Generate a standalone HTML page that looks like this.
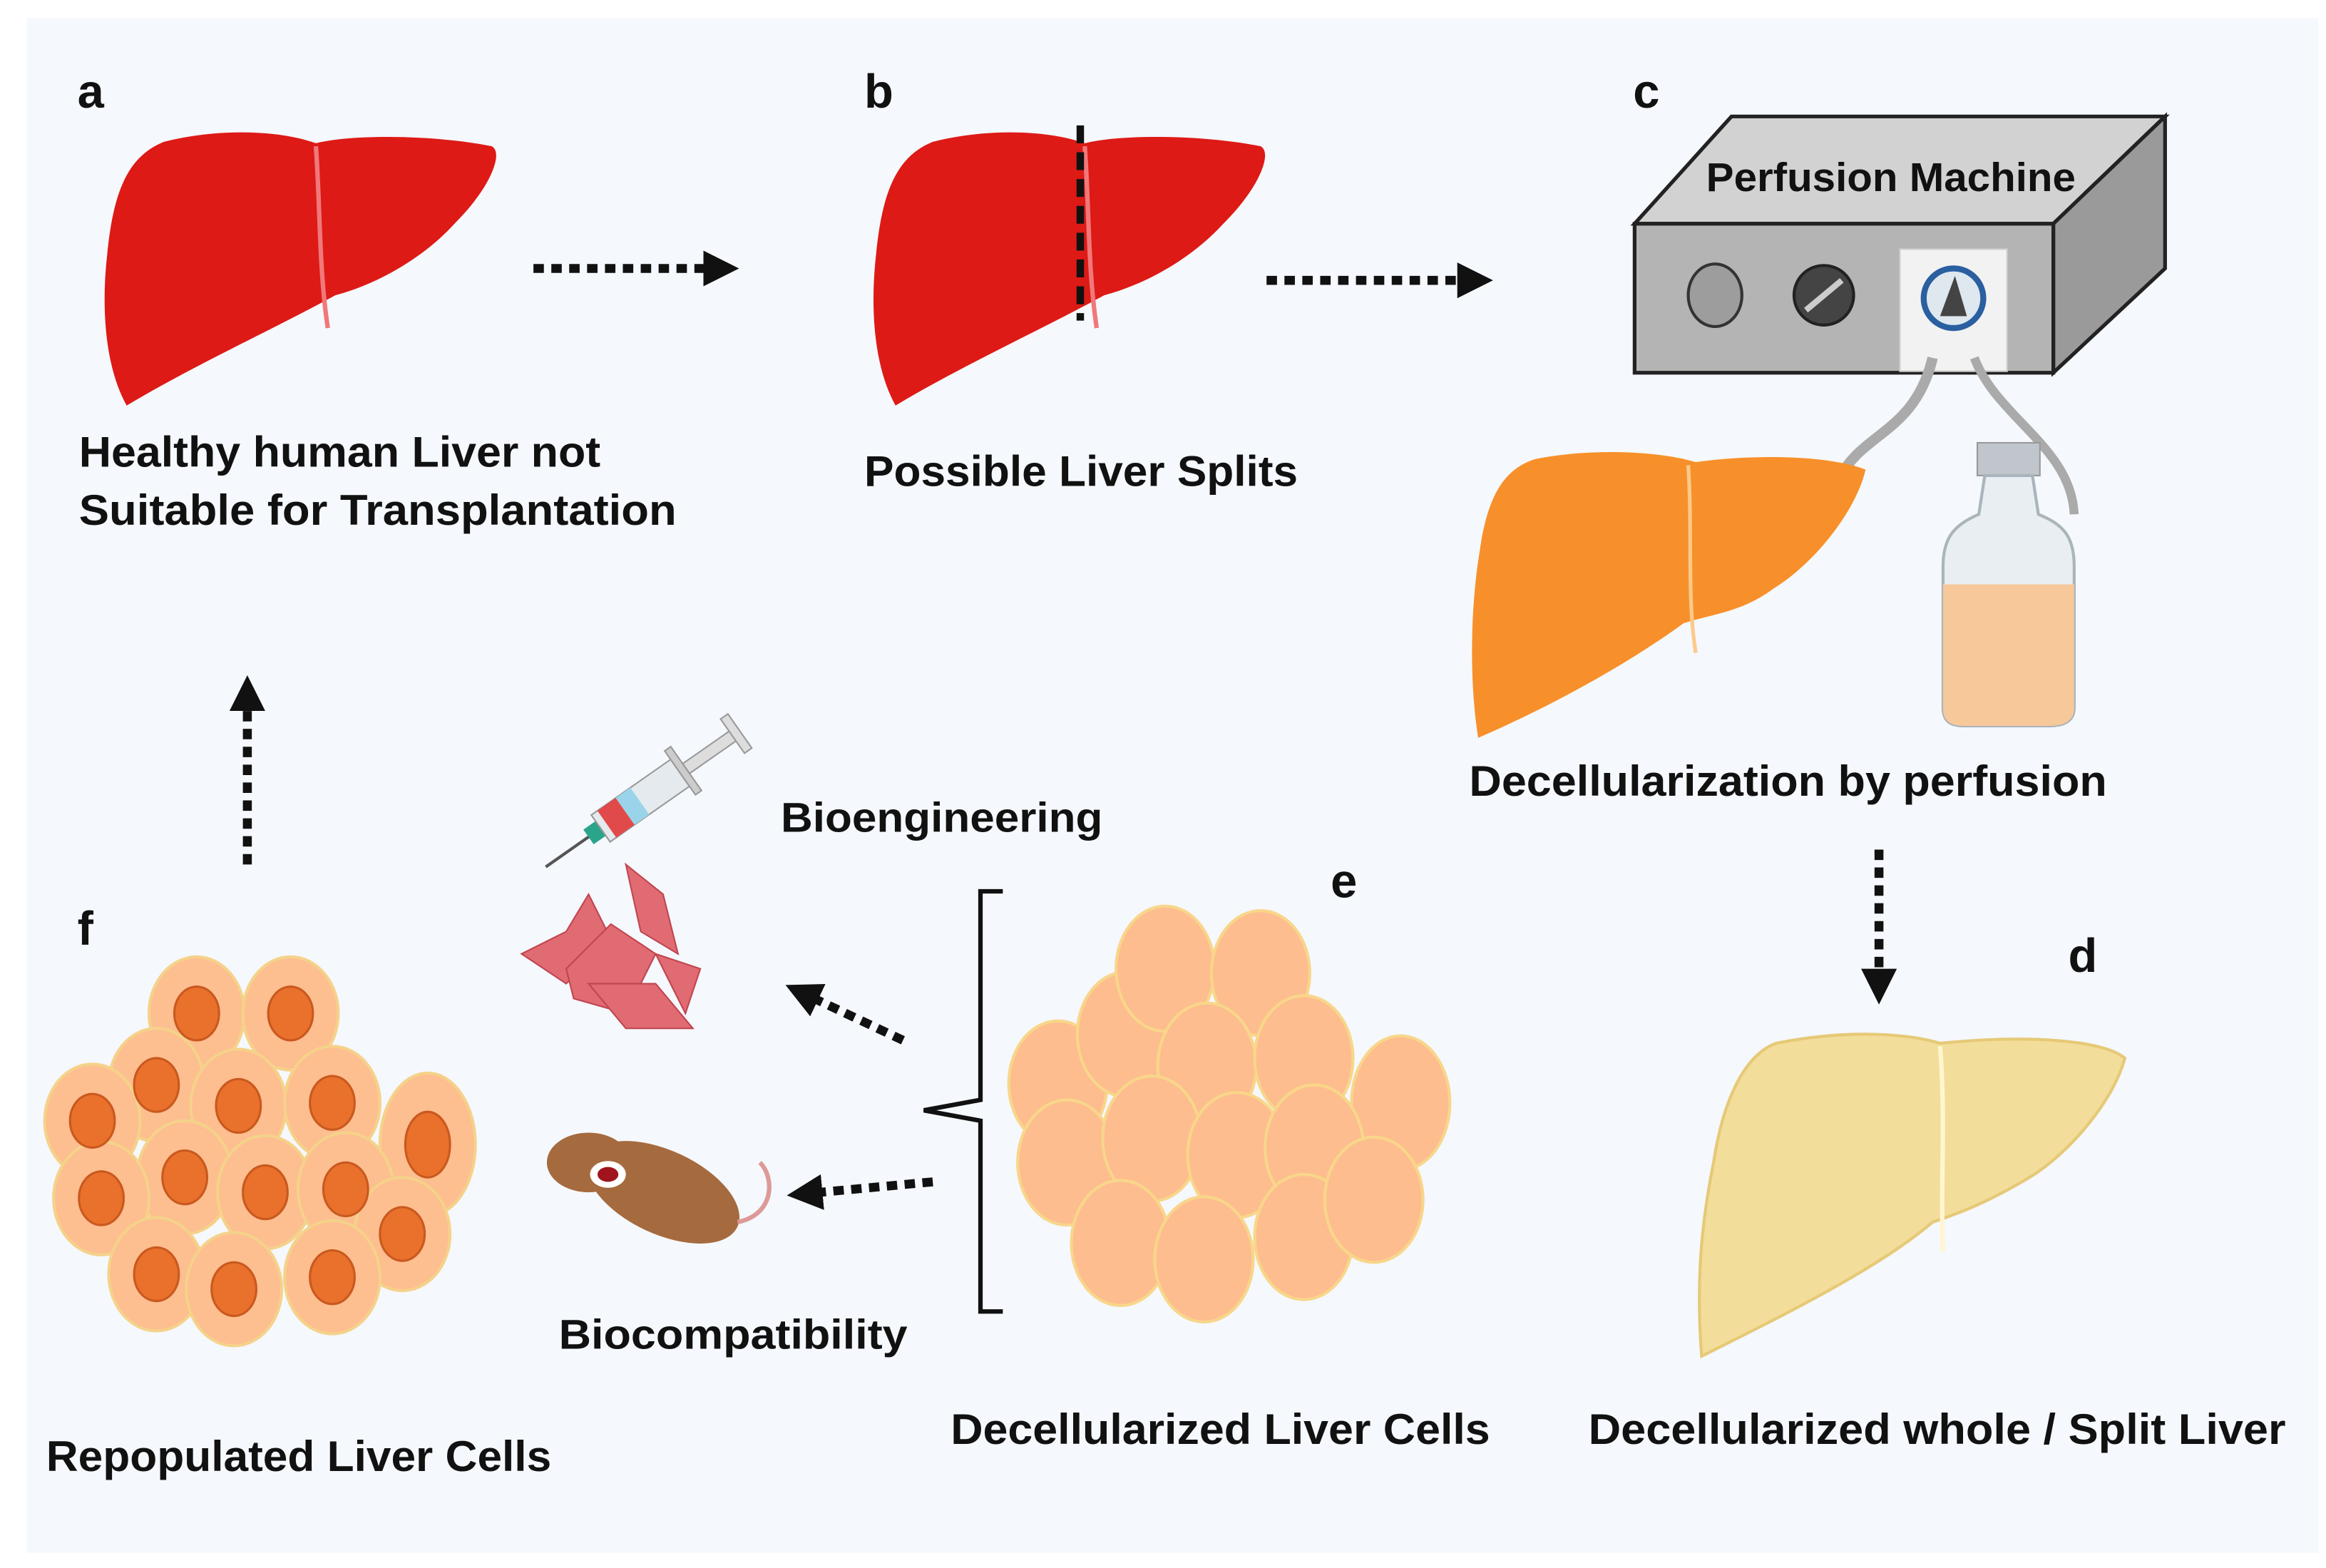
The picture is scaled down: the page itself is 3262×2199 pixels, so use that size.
<!DOCTYPE html>
<html><head><meta charset="utf-8"><style>
html,body{margin:0;padding:0;background:#fff;}
svg{display:block;}
text{font-family:"Liberation Sans",sans-serif;font-weight:bold;fill:#111;}
</style></head><body>
<svg width="3262" height="2199" viewBox="0 0 1561 1052" xmlns="http://www.w3.org/2000/svg">
<defs>
<path id="liver" d="M110,95 C150,85 190,88 212,96 C235,90 290,90 330,98 C338,102 330,125 305,150 C285,172 255,190 225,198 C185,220 130,245 85,272 C70,245 68,205 72,170 C76,130 85,105 110,95 Z"/>
<marker id="ah" viewBox="0 0 10 10" refX="5" refY="5" markerWidth="4" markerHeight="4" orient="auto"><path d="M0,0 L10,5 L0,10 Z" fill="#111"/></marker>
</defs>
<rect x="0" y="0" width="1561" height="1052" fill="#fff"/>
<rect x="18" y="12" width="1538" height="1030" fill="#f5f8fc"/>

<text x="52" y="72" font-size="32">a</text>
<text x="580" y="72" font-size="32">b</text>
<text x="1096" y="72" font-size="32">c</text>
<text x="1388" y="652" font-size="32">d</text>
<text x="893" y="602" font-size="32">e</text>
<text x="52" y="634" font-size="32">f</text>

<use href="#liver" fill="#dd1a16"/>
<path d="M212,98 C215,140 214,180 220,220" stroke="#f0787a" stroke-width="3" fill="none"/>
<g transform="translate(516,0)">
<use href="#liver" fill="#dd1a16"/>
<path d="M212,98 C215,140 214,180 220,220" stroke="#f0787a" stroke-width="3" fill="none"/>
</g>
<line x1="725" y1="84" x2="725" y2="215" stroke="#111" stroke-width="5" stroke-dasharray="12,6"/>

<line x1="358" y1="180" x2="484" y2="180" stroke="#111" stroke-width="6" stroke-dasharray="7,5" marker-end="url(#ah)"/>
<line x1="850" y1="188" x2="990" y2="188" stroke="#111" stroke-width="6" stroke-dasharray="7,5" marker-end="url(#ah)"/>
<line x1="1261" y1="570" x2="1261" y2="662" stroke="#111" stroke-width="6" stroke-dasharray="7,5" marker-end="url(#ah)"/>
<line x1="166" y1="580" x2="166" y2="465" stroke="#111" stroke-width="6" stroke-dasharray="7,5" marker-end="url(#ah)"/>
<line x1="606" y1="698" x2="538" y2="666" stroke="#111" stroke-width="6" stroke-dasharray="7,5" marker-end="url(#ah)"/>
<line x1="626" y1="793" x2="540" y2="801" stroke="#111" stroke-width="6" stroke-dasharray="7,5" marker-end="url(#ah)"/>

<polygon points="1097,150 1162,78 1453,78 1378,150" fill="#d2d2d2" stroke="#222" stroke-width="2.5"/>
<polygon points="1378,150 1453,78 1453,180 1378,250" fill="#9a9a9a" stroke="#222" stroke-width="2.5"/>
<rect x="1097" y="150" width="281" height="100" fill="#b4b4b4" stroke="#222" stroke-width="2.5"/>
<text x="1145" y="128" font-size="27" textLength="248" lengthAdjust="spacingAndGlyphs">Perfusion Machine</text>
<ellipse cx="1151" cy="198" rx="18" ry="21" fill="#9d9d9d" stroke="#333" stroke-width="2"/>
<circle cx="1224" cy="198" r="20" fill="#444" stroke="#222" stroke-width="2"/>
<line x1="1212" y1="208" x2="1236" y2="188" stroke="#ccc" stroke-width="4"/>
<rect x="1275" y="167" width="72" height="82" fill="#f2f2f2" stroke="#ccc"/>
<circle cx="1311" cy="200" r="20" fill="#dfe7ef" stroke="#2a5fa0" stroke-width="4"/>
<path d="M1302,212 L1312,185 L1320,212 Z" fill="#444"/>
<path d="M1297,240 C1285,290 1250,290 1235,320 L1200,362" stroke="#aaa" stroke-width="7" fill="none"/>
<path d="M1325,240 C1340,280 1390,300 1392,345" stroke="#aaa" stroke-width="6" fill="none"/>

<g transform="translate(990,300)">
<path d="M40,8 C80,0 125,3 148,10 C190,4 240,6 262,15 C255,45 225,80 200,95 C180,110 160,112 140,118 C110,140 60,170 2,195 C-5,150 -2,100 3,70 C8,35 18,15 40,8 Z" fill="#f7902a"/>
<path d="M143,12 C146,60 142,100 148,138" stroke="#fdc98a" stroke-width="2.5" fill="none"/>
</g>
<rect x="1327" y="297" width="42" height="22" fill="#c0c6cc" stroke="#999"/>
<path d="M1332,319 L1364,319 L1368,345 C1385,352 1392,360 1392,380 L1392,475 C1392,484 1385,487 1375,487 L1318,487 C1309,487 1304,484 1304,475 L1304,380 C1304,360 1312,352 1328,345 Z" fill="#e8eef2" stroke="#aab4bc" stroke-width="2"/>
<path d="M1304,392 L1392,392 L1392,475 C1392,484 1385,487 1375,487 L1318,487 C1309,487 1304,484 1304,475 Z" fill="#f7c89a"/>

<g transform="translate(1142,690)">
<path d="M50,10 C100,0 140,4 160,10 C220,4 270,8 284,20 C276,50 245,85 220,100 C190,118 170,125 155,130 C120,160 60,190 0,220 C-4,170 0,130 8,90 C14,50 28,18 50,10 Z" fill="#f3dd9a" stroke="#e6c977" stroke-width="2"/>
<path d="M160,12 C164,60 160,110 162,150" stroke="#fff5d0" stroke-width="3" fill="none"/>
</g>

<g transform="translate(440,530) rotate(-35)">
<line x1="-90" y1="0" x2="-50" y2="0" stroke="#555" stroke-width="2"/>
<rect x="-55" y="-6" width="10" height="12" fill="#2aa58c"/>
<rect x="-45" y="-11" width="65" height="22" fill="#e5eaee" stroke="#999"/>
<rect x="-40" y="-11" width="15" height="22" fill="#e04a4a"/>
<rect x="-25" y="-11" width="12" height="22" fill="#9ad4ea"/>
<rect x="20" y="-18" width="5" height="36" fill="#ccc" stroke="#999"/>
<rect x="25" y="-4" width="40" height="8" fill="#ddd" stroke="#999"/>
<rect x="63" y="-14" width="6" height="28" fill="#ddd" stroke="#999"/>
</g>
<g fill="#e06b72" stroke="#c04550" stroke-width="1">
<path d="M350,640 L380,625 L395,600 L410,630 L380,660 Z"/>
<path d="M380,650 L410,620 L440,640 L420,680 L385,670 Z"/>
<path d="M420,580 L445,600 L455,640 L430,625 Z"/>
<path d="M395,660 L440,660 L465,690 L420,690 Z"/>
<path d="M440,640 L470,650 L460,680 Z"/>
</g>
<ellipse cx="445" cy="800" rx="55" ry="28" fill="#a56a3e" transform="rotate(25 445 800)"/>
<ellipse cx="395" cy="780" rx="28" ry="20" fill="#a56a3e"/>
<ellipse cx="408" cy="788" rx="12" ry="9" fill="#fff"/>
<ellipse cx="408" cy="788" rx="7" ry="5" fill="#a0141e"/>
<path d="M495,820 C520,815 520,790 510,780" stroke="#d99" stroke-width="3" fill="none"/>

<text x="524" y="558" font-size="28" textLength="216" lengthAdjust="spacingAndGlyphs">Bioengineering</text>
<text x="375" y="905" font-size="28" textLength="234" lengthAdjust="spacingAndGlyphs">Biocompatibility</text>

<path d="M673,598 L658,598 L658,738 L620,745 L658,752 L658,880 L673,880" stroke="#111" stroke-width="3" fill="none"/>

<g fill="#fdbd8e" stroke="#f8d68a" stroke-width="2">
<ellipse cx="710" cy="727" rx="33" ry="42"/>
<ellipse cx="756" cy="694" rx="33" ry="42"/>
<ellipse cx="940" cy="740" rx="33" ry="45"/>
<ellipse cx="782" cy="650" rx="33" ry="42"/>
<ellipse cx="846" cy="653" rx="33" ry="42"/>
<ellipse cx="810" cy="715" rx="33" ry="42"/>
<ellipse cx="875" cy="710" rx="33" ry="42"/>
<ellipse cx="716" cy="780" rx="33" ry="42"/>
<ellipse cx="773" cy="764" rx="33" ry="42"/>
<ellipse cx="830" cy="775" rx="33" ry="42"/>
<ellipse cx="882" cy="770" rx="33" ry="42"/>
<ellipse cx="752" cy="834" rx="33" ry="42"/>
<ellipse cx="808" cy="845" rx="33" ry="42"/>
<ellipse cx="875" cy="830" rx="33" ry="42"/>
<ellipse cx="922" cy="805" rx="33" ry="42"/>
</g>

<g fill="#fdbe90" stroke="#f5d28a" stroke-width="2">
<ellipse cx="132" cy="680" rx="32" ry="38"/><ellipse cx="195" cy="680" rx="32" ry="38"/>
<ellipse cx="105" cy="728" rx="32" ry="38"/><ellipse cx="160" cy="742" rx="32" ry="38"/><ellipse cx="223" cy="740" rx="32" ry="38"/>
<ellipse cx="62" cy="752" rx="32" ry="38"/><ellipse cx="287" cy="768" rx="32" ry="48"/>
<ellipse cx="124" cy="790" rx="32" ry="38"/><ellipse cx="178" cy="800" rx="32" ry="38"/><ellipse cx="232" cy="798" rx="32" ry="38"/>
<ellipse cx="68" cy="804" rx="32" ry="38"/><ellipse cx="270" cy="828" rx="32" ry="38"/>
<ellipse cx="105" cy="855" rx="32" ry="38"/><ellipse cx="157" cy="865" rx="32" ry="38"/><ellipse cx="223" cy="857" rx="32" ry="38"/>
</g>
<g fill="#e9712c" stroke="#c9591f" stroke-width="1.5">
<ellipse cx="132" cy="680" rx="15" ry="18"/><ellipse cx="195" cy="680" rx="15" ry="18"/>
<ellipse cx="105" cy="728" rx="15" ry="18"/><ellipse cx="160" cy="742" rx="15" ry="18"/><ellipse cx="223" cy="740" rx="15" ry="18"/>
<ellipse cx="62" cy="752" rx="15" ry="18"/><ellipse cx="287" cy="768" rx="15" ry="22"/>
<ellipse cx="124" cy="790" rx="15" ry="18"/><ellipse cx="178" cy="800" rx="15" ry="18"/><ellipse cx="232" cy="798" rx="15" ry="18"/>
<ellipse cx="68" cy="804" rx="15" ry="18"/><ellipse cx="270" cy="828" rx="15" ry="18"/>
<ellipse cx="105" cy="855" rx="15" ry="18"/><ellipse cx="157" cy="865" rx="15" ry="18"/><ellipse cx="223" cy="857" rx="15" ry="18"/>
</g>

<text x="53" y="313" font-size="29" textLength="350" lengthAdjust="spacingAndGlyphs">Healthy human Liver not</text>
<text x="53" y="352" font-size="29" textLength="401" lengthAdjust="spacingAndGlyphs">Suitable for Transplantation</text>
<text x="580" y="326" font-size="29" textLength="291" lengthAdjust="spacingAndGlyphs">Possible Liver Splits</text>
<text x="986" y="534" font-size="29" textLength="428" lengthAdjust="spacingAndGlyphs">Decellularization by perfusion</text>
<text x="31" y="987" font-size="29" textLength="339" lengthAdjust="spacingAndGlyphs">Repopulated Liver Cells</text>
<text x="638" y="969" font-size="29" textLength="362" lengthAdjust="spacingAndGlyphs">Decellularized Liver Cells</text>
<text x="1066" y="969" font-size="29" textLength="468" lengthAdjust="spacingAndGlyphs">Decellularized whole / Split Liver</text>
</svg>
</body></html>
